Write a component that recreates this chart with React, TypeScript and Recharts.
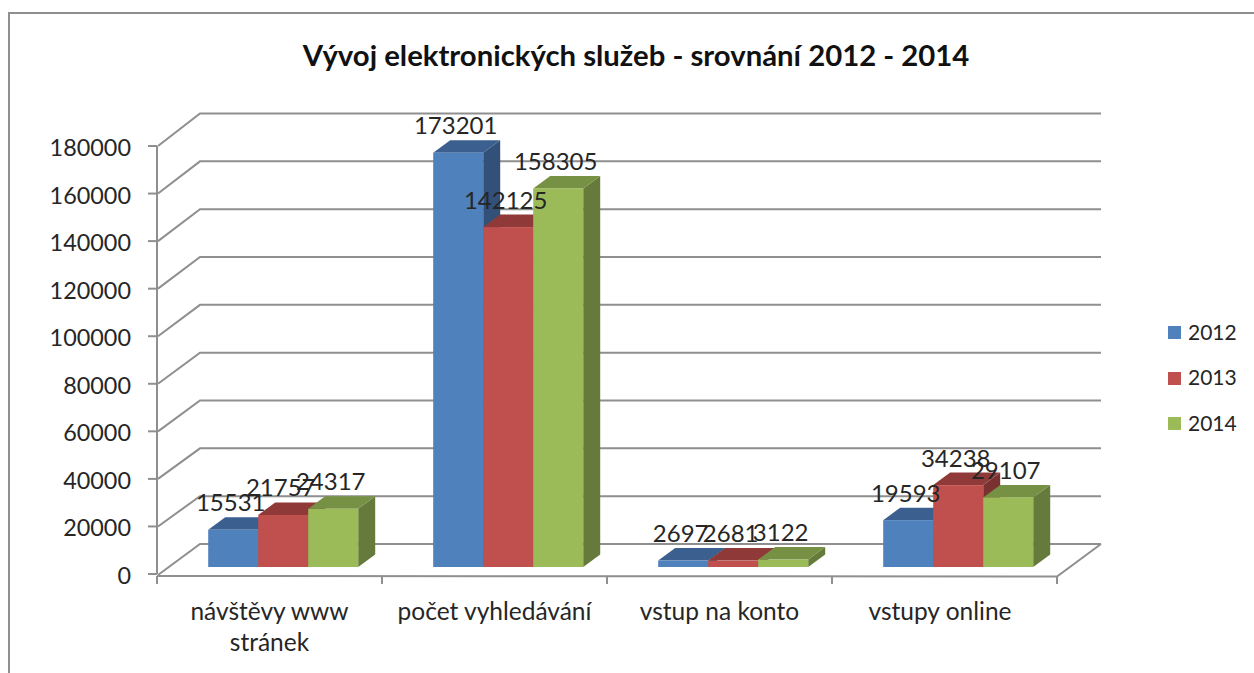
import React from "react";
import { ComposedChart, Bar, Line, XAxis, YAxis, CartesianGrid, Legend } from "recharts";

const categories = ["návštěvy www stránek", "počet vyhledávání", "vstup na konto", "vstupy online"];
const categoryLines = [["návštěvy www", "stránek"], ["počet vyhledávání"], ["vstup na konto"], ["vstupy online"]];
const values2012 = [15531, 173201, 2697, 19593];
const values2013 = [21757, 142125, 2681, 34238];
const values2014 = [24317, 158305, 3122, 29107];
const yTicks = [0, 20000, 40000, 60000, 80000, 100000, 120000, 140000, 160000, 180000];
const years = ["2012", "2013", "2014"];
const fronts = ["#4F81BD", "#C0504D", "#9BBB59"];
const tops = ["#3B6090", "#8F3A38", "#779144"];
const sides = ["#325078", "#7A3230", "#667A3B"];

const data = categories.map((c, i) => ({
  category: c,
  y2012: values2012[i],
  y2013: values2013[i],
  y2014: values2014[i],
}));

const FONT = "Lato, sans-serif";
const AXIS = "#8f8f8f";
const TEXT = "#262626";
const TOP_Y = 146;
const BASE_Y = 574;
const BAND = 225;

const Box = (si: number) => (p: any) => {
  const h = p.height * (430.5 / 428);
  const x = p.x + 13.2;
  const w = p.width;
  const bottom = p.y + p.height - 7;
  const top = bottom - h;
  const dx = 17;
  const dy = -12.5;
  return (
    <g>
      <polygon points={`${x + w},${top} ${x + w + dx},${top + dy} ${x + w + dx},${bottom + dy} ${x + w},${bottom}`} fill={sides[si]} />
      <polygon points={`${x},${top} ${x + dx},${top + dy} ${x + w + dx},${top + dy} ${x + w},${top}`} fill={tops[si]} />
      <rect x={x} y={top} width={w} height={h} fill={fronts[si]} />
    </g>
  );
};

const ValueLabel = (si: number) => (p: any) => {
  const cx = p.x + (si - 1) * 50 + 13.2 - 2;
  const top = BASE_Y - 7 - (BASE_Y - p.y) * (430.5 / 428);
  return (
    <text x={cx} y={top - 28} textAnchor="middle" dominantBaseline="central" fontFamily={FONT} fontSize={24} fill={TEXT}>
      {p.value}
    </text>
  );
};

const GridLine = (p: any) => {
  const y = p.y1;
  const backY = 113.5 + (y - TOP_Y) * (430.5 / 428);
  const isFloor = Math.abs(y - BASE_Y) < 1;
  return (
    <g stroke={AXIS} strokeWidth={2} fill="none">
      <polyline points={`${p.x1 + 1},${y + (isFloor ? 1 : 0)} ${p.x1 + 43},${backY} ${p.x2 + 44},${backY}`} />
      {isFloor && <polyline points={`${p.x1},${y + 2} ${p.x2},${y + 2.5} ${p.x2 + 44},${backY}`} />}
    </g>
  );
};

const CategoryTick = (p: any) => {
  const lines = categoryLines[p.index] || [];
  const y0 = BASE_Y;
  const last = p.index === categories.length - 1;
  return (
    <g>
      <line x1={p.x - BAND / 2} x2={p.x - BAND / 2} y1={y0 + 2} y2={y0 + 10} stroke={AXIS} strokeWidth={2} />
      {last && <line x1={p.x + BAND / 2} x2={p.x + BAND / 2} y1={y0 + 2} y2={y0 + 10} stroke={AXIS} strokeWidth={2} />}
      {lines.map((t, i) => (
        <text key={t} x={p.x - (last ? 4.5 : 0)} y={y0 + 36 + i * 31} textAnchor="middle" dominantBaseline="central" fontFamily={FONT} fontSize={24.5} fill={TEXT}>
          {t}
        </text>
      ))}
    </g>
  );
};

const LegendBox = () => (
  <div style={{ position: "absolute", left: 1168, top: 320, fontFamily: FONT, fontSize: 21, color: TEXT }}>
    {years.map((y, i) => (
      <div key={y} style={{ display: "flex", alignItems: "center", height: 25, marginBottom: 20.5 }}>
        <span style={{ width: 13, height: 13, background: fronts[i], display: "inline-block", marginRight: 7 }} />
        <span style={{ position: "relative", top: -1.5 }}>{y}</span>
      </div>
    ))}
  </div>
);

const ValueTick = (p: any) => (
  <text x={p.x} y={p.y + 1} textAnchor="end" dominantBaseline="central" fontFamily={FONT} fontSize={23.4} fill={TEXT}>
    {p.payload.value}
  </text>
);

export default function App() {
  return (
    <div style={{ position: "absolute", left: 0, top: 0, width: 1254, height: 673, overflow: "hidden", background: "#fff" }}>
      <div style={{ position: "absolute", left: 8, top: 12, width: 1260, height: 680, borderLeft: `2px solid ${AXIS}`, borderTop: `2px solid ${AXIS}` }} />
      <div style={{ position: "absolute", left: 0, width: 1272, top: 38, textAlign: "center", fontFamily: FONT, fontWeight: 700, fontSize: 29.3, lineHeight: "34px", color: "#111" }}>
        Vývoj elektronických služeb - srovnání 2012 - 2014
      </div>
      <ComposedChart
        width={1254}
        height={673}
        data={data}
        margin={{ top: TOP_Y, right: 197, bottom: 0, left: 0 }}
        barGap={0}
        barSize={50}
        style={{ position: "absolute", left: 0, top: 0 }}
      >
        <CartesianGrid horizontal={GridLine as any} vertical={false} />
        <XAxis dataKey="category" axisLine={false} tickLine={false} tickSize={0} tickMargin={0} height={673 - BASE_Y} interval={0} tick={CategoryTick as any} />
        <YAxis
          type="number"
          domain={[0, 180000]}
          ticks={yTicks}
          width={157}
          interval={0}
          tickSize={9}
          tickMargin={17}
          axisLine={{ stroke: AXIS, strokeWidth: 2 }}
          tickLine={{ stroke: AXIS, strokeWidth: 2 }}
          tick={ValueTick as any}
        />
        <Legend content={LegendBox as any} wrapperStyle={{ position: "absolute", left: 0, top: 0, width: 0, height: 0 }} />
        <Bar dataKey="y2012" name="2012" fill={fronts[0]} shape={Box(0) as any} isAnimationActive={false} />
        <Bar dataKey="y2013" name="2013" fill={fronts[1]} shape={Box(1) as any} isAnimationActive={false} />
        <Bar dataKey="y2014" name="2014" fill={fronts[2]} shape={Box(2) as any} isAnimationActive={false} />
        <Line dataKey="y2012" legendType="none" stroke="none" dot={false} label={ValueLabel(0) as any} isAnimationActive={false} />
        <Line dataKey="y2013" legendType="none" stroke="none" dot={false} label={ValueLabel(1) as any} isAnimationActive={false} />
        <Line dataKey="y2014" legendType="none" stroke="none" dot={false} label={ValueLabel(2) as any} isAnimationActive={false} />
      </ComposedChart>
    </div>
  );
}
